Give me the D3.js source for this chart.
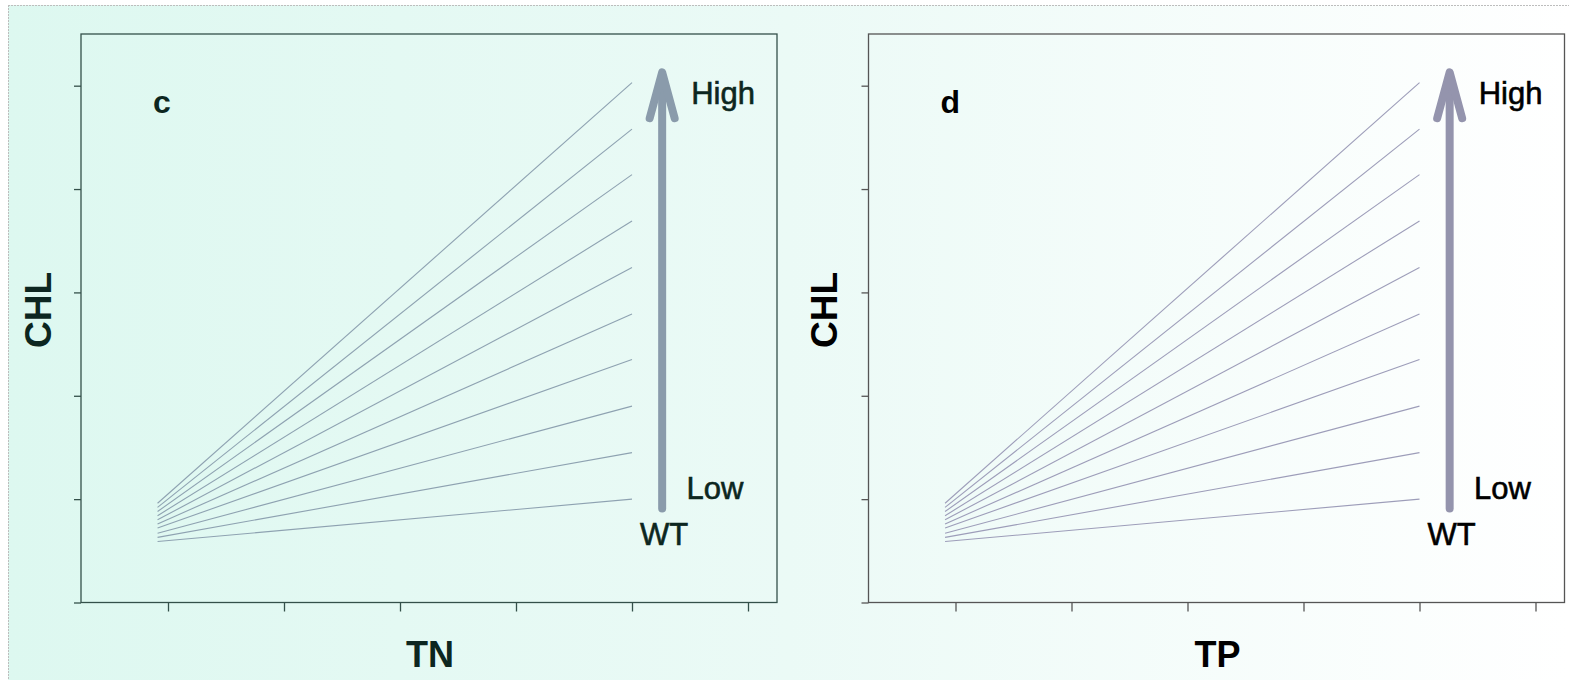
<!DOCTYPE html>
<html>
<head>
<meta charset="utf-8">
<script src="https://cdn.jsdelivr.net/npm/d3@7"></script>
<style>
  html, body { margin: 0; padding: 0; background: #ffffff; }
  svg { display: block; }
  text { font-family: "Liberation Sans", Arial, sans-serif; }
</style>
</head>
<body>
<svg id="chart" width="1569" height="680"></svg>
<script>
// ---- data ----
const panels = ["c", "d"];
const xLabels = ["TN", "TP"];
const yLabel = "CHL";
const xTicks = [0, 1, 2, 3, 4, 5];
const yTicks = [0, 1, 2, 3, 4, 5];
const lineX = [-0.09, 4.0];                  // start / end of each response line
const lineStart = [0.96, 0.92, 0.88, 0.84, 0.80, 0.76, 0.72, 0.67, 0.63, 0.59];
const lineEnd   = [5.03, 4.58, 4.14, 3.69, 3.24, 2.79, 2.35, 1.90, 1.45, 1.00];
const arrowX = 4.26;
const arrowY = [0.91, 5.13];
const gradientLabels = ["High", "Low", "WT"];
const gradientLabelPos = [[4.51, 4.82], [4.47, 1.0], [4.07, 0.56]];
const panelLetterPos = [-0.13, 4.74];

// ---- layout ----
const W = 1569, H = 680;
const svg = d3.select("#chart");
const defs = svg.append("defs");
const grad = defs.append("linearGradient").attr("id", "bg")
  .attr("x1", 0).attr("x2", 1).attr("y1", 0).attr("y2", 0);
grad.append("stop").attr("offset", "0%").attr("stop-color", "#ddf8f0");
grad.append("stop").attr("offset", "50%").attr("stop-color", "#ebfaf6");
grad.append("stop").attr("offset", "100%").attr("stop-color", "#ffffff");

svg.append("rect").attr("x", 0).attr("y", 0).attr("width", W).attr("height", H).attr("fill", "#fff");
svg.append("rect").attr("x", 8).attr("y", 5).attr("width", W - 8).attr("height", H - 5).attr("fill", "url(#bg)");
svg.append("line").attr("x1", 8).attr("x2", W).attr("y1", 5.5).attr("y2", 5.5)
  .attr("stroke", "#bdbdbd").attr("stroke-dasharray", "2,1");
svg.append("line").attr("x1", 8.5).attr("x2", 8.5).attr("y1", 5).attr("y2", H)
  .attr("stroke", "#bdbdbd").attr("stroke-dasharray", "2,1");

const panelCfg = [
  { left: 81, frame: "#34504a", text: "#0c2620", line: "#8ea2b1", arrow: "#8a9bab", ylabX: 51 },
  { left: 868.5, frame: "#555555", text: "#000000", line: "#9d9db9", arrow: "#9494ad", ylabX: 837 }
];
const plotTop = 34, plotBottom = 602.5;

panelCfg.forEach((cfg, i) => {
  const x = d3.scaleLinear().domain([-0.75, 5.25]).range([cfg.left, cfg.left + 696]);
  const y = d3.scaleLinear().domain([0, 5.5]).range([plotBottom, plotTop]);
  const g = svg.append("g");

  // response lines
  const lineGen = d3.line().x(d => x(d[0])).y(d => y(d[1]));
  lineStart.forEach((s, k) => {
    g.append("path")
      .attr("d", lineGen([[lineX[0], s], [lineX[1], lineEnd[k]]]))
      .attr("fill", "none").attr("stroke", cfg.line).attr("stroke-width", 1.1);
  });

  // frame
  g.append("rect").attr("x", x(-0.75)).attr("y", plotTop)
    .attr("width", x(5.25) - x(-0.75)).attr("height", plotBottom - plotTop)
    .attr("fill", "none").attr("stroke", cfg.frame).attr("stroke-width", 1.3);

  // axes
  const ya = g.append("g").attr("transform", `translate(${x(-0.75)},0)`)
    .call(d3.axisLeft(y).tickValues(yTicks).tickSize(7).tickFormat(""));
  ya.select(".domain").remove();
  ya.selectAll("line").attr("stroke", cfg.frame).attr("stroke-width", 1.3);
  const xa = g.append("g").attr("transform", `translate(0,${plotBottom})`)
    .call(d3.axisBottom(x).tickValues(xTicks).tickSize(9).tickFormat(""));
  xa.select(".domain").remove();
  xa.selectAll("line").attr("stroke", cfg.frame).attr("stroke-width", 1.3);

  // arrow
  const ax = x(arrowX), ay0 = y(arrowY[0]), ay1 = y(arrowY[1]);
  g.append("line").attr("x1", ax).attr("x2", ax).attr("y1", ay0).attr("y2", ay1 + 6)
    .attr("stroke", cfg.arrow).attr("stroke-width", 8).attr("stroke-linecap", "round");
  g.append("path")
    .attr("d", `M${ax - 12.5},${ay1 + 46} L${ax},${ay1} L${ax + 12.5},${ay1 + 46}`)
    .attr("fill", "none").attr("stroke", cfg.arrow).attr("stroke-width", 8)
    .attr("stroke-linecap", "round").attr("stroke-linejoin", "round");

  // labels
  gradientLabels.forEach((t, k) => {
    g.append("text").attr("x", x(gradientLabelPos[k][0])).attr("y", y(gradientLabelPos[k][1]))
      .attr("font-size", 31).attr("fill", cfg.text)
      .attr("stroke", cfg.text).attr("stroke-width", 0.6).text(t);
  });
  g.append("text").attr("x", x(panelLetterPos[0])).attr("y", y(panelLetterPos[1]))
    .attr("font-size", 32).attr("font-weight", "bold").attr("fill", cfg.text).text(panels[i]);
  g.append("text").attr("x", (x(-0.75) + x(5.25)) / 2 + 1).attr("y", 667)
    .attr("text-anchor", "middle").attr("font-size", 36).attr("font-weight", "bold")
    .attr("fill", cfg.text).text(xLabels[i]);
  g.append("text").attr("transform", `translate(${cfg.ylabX},310) rotate(-90)`)
    .attr("text-anchor", "middle").attr("font-size", 37).attr("font-weight", "bold")
    .attr("fill", cfg.text).text(yLabel);
});
</script>
</body>
</html>
